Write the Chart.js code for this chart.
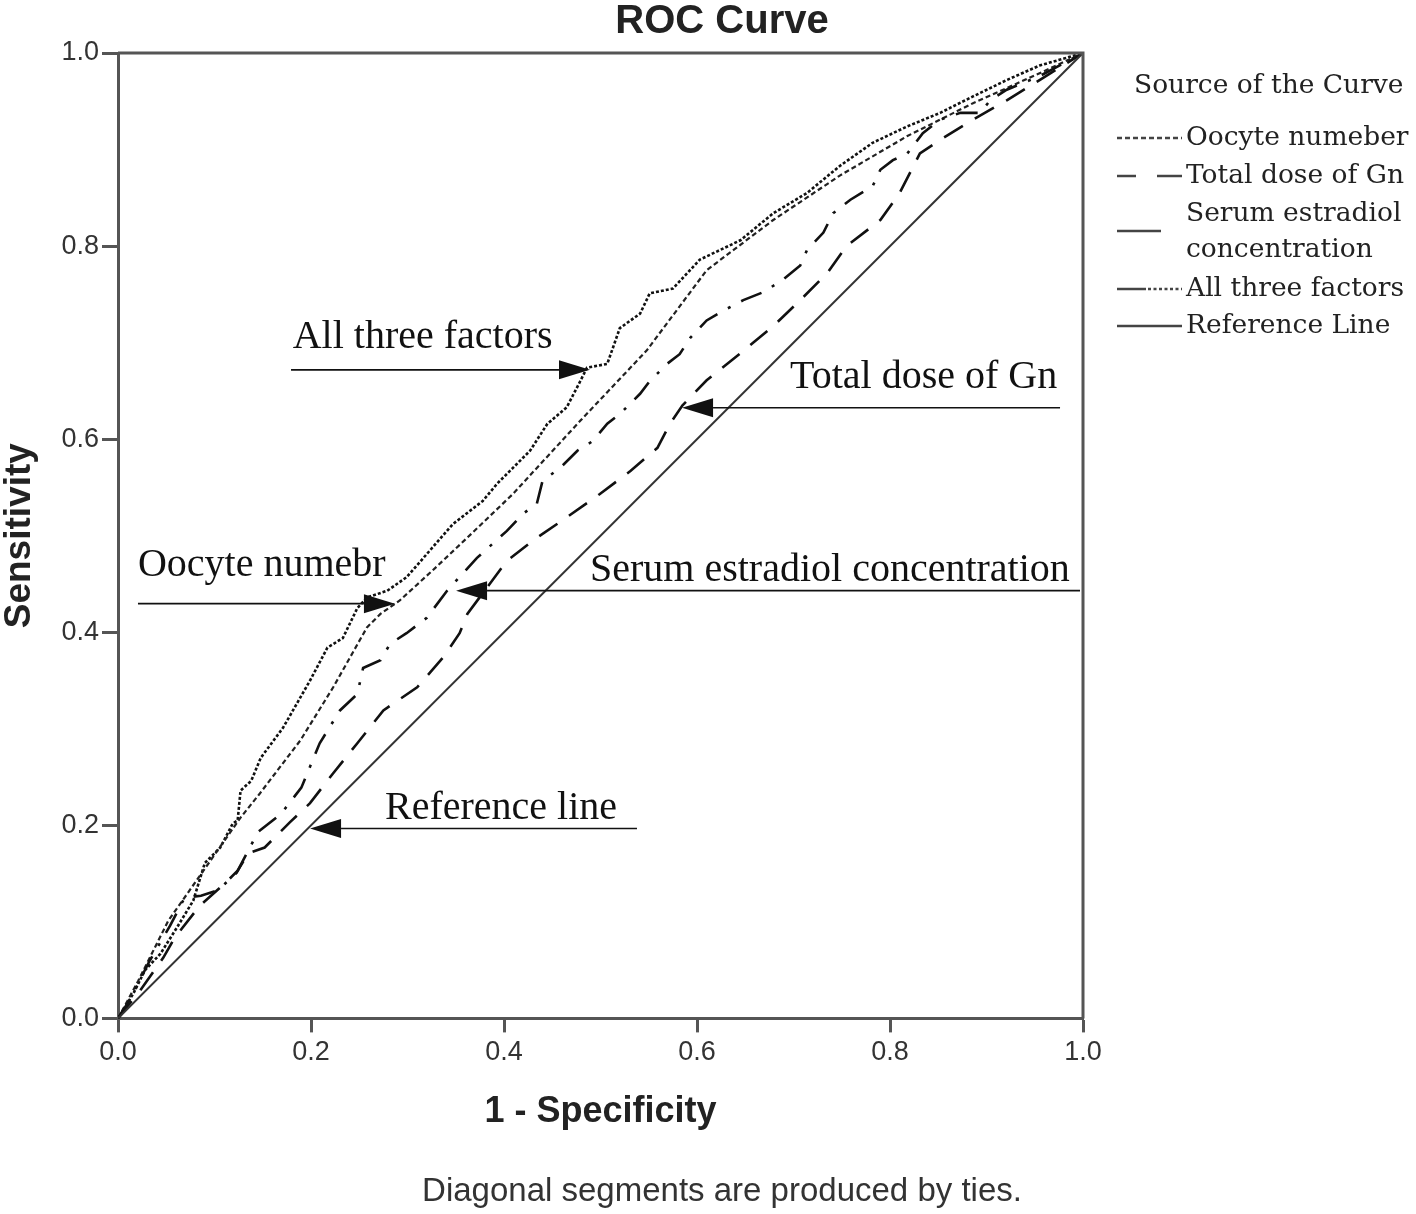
<!DOCTYPE html>
<html>
<head>
<meta charset="utf-8">
<script src="https://cdn.jsdelivr.net/npm/chart.js@4.4.1/dist/chart.umd.min.js"></script>
<style>
html,body{margin:0;padding:0;background:#fff;}
#wrap{width:1416px;height:1214px;}
</style>
</head>
<body>
<div id="wrap"><canvas id="c" width="1416" height="1214"></canvas></div>
<script>
// ---------- data ----------
const tickValues = [0.0, 0.2, 0.4, 0.6, 0.8, 1.0];

const allThreeX = [0,0.007,0.016,0.028,0.044,0.061,0.078,0.090,0.106,0.119,0.124,0.127,0.138,0.148,0.171,0.199,0.217,0.233,0.248,0.258,0.279,0.299,0.320,0.347,0.378,0.393,0.409,0.427,0.445,0.465,0.479,0.486,0.507,0.513,0.520,0.541,0.551,0.575,0.603,0.645,0.679,0.714,0.748,0.782,0.818,0.852,0.886,0.921,0.955,1];
const allThreeY = [0,0.011,0.026,0.050,0.067,0.094,0.122,0.161,0.177,0.202,0.205,0.236,0.246,0.270,0.301,0.350,0.384,0.394,0.425,0.436,0.443,0.457,0.481,0.512,0.536,0.554,0.570,0.588,0.616,0.633,0.660,0.674,0.678,0.695,0.715,0.730,0.751,0.756,0.786,0.806,0.834,0.855,0.883,0.907,0.924,0.938,0.955,0.972,0.987,1];

const oocyteX = [0,0.021,0.052,0.085,0.127,0.147,0.189,0.223,0.258,0.272,0.292,0.326,0.362,0.409,0.479,0.548,0.610,0.679,0.748,0.818,0.886,0.955,1];
const oocyteY = [0,0.039,0.101,0.148,0.208,0.233,0.288,0.343,0.405,0.419,0.433,0.464,0.498,0.543,0.619,0.692,0.775,0.827,0.873,0.914,0.948,0.979,1];

const serumX = [0,0.012,0.033,0.054,0.069,0.086,0.104,0.123,0.145,0.169,0.190,0.209,0.230,0.248,0.254,0.272,0.282,0.299,0.320,0.341,0.372,0.403,0.420,0.434,0.440,0.458,0.476,0.492,0.507,0.520,0.541,0.551,0.569,0.582,0.593,0.610,0.627,0.648,0.668,0.689,0.707,0.714,0.731,0.741,0.759,0.782,0.790,0.803,0.818,0.834,0.852,0.873,0.893,0.904,0.921,0.955,1];
const serumY = [0,0.019,0.060,0.096,0.125,0.127,0.133,0.151,0.193,0.212,0.239,0.285,0.319,0.336,0.363,0.371,0.388,0.399,0.415,0.443,0.477,0.505,0.523,0.533,0.557,0.570,0.588,0.598,0.616,0.626,0.647,0.660,0.678,0.688,0.705,0.723,0.733,0.744,0.752,0.765,0.780,0.796,0.814,0.834,0.848,0.862,0.879,0.889,0.896,0.917,0.931,0.938,0.938,0.951,0.962,0.976,1];

const gnX = [0,0.023,0.047,0.059,0.085,0.111,0.124,0.135,0.152,0.178,0.199,0.223,0.248,0.275,0.310,0.337,0.354,0.362,0.403,0.430,0.465,0.499,0.531,0.559,0.572,0.585,0.610,0.645,0.679,0.707,0.735,0.755,0.790,0.810,0.831,0.852,0.886,0.921,0.955,1];
const gnY = [0,0.029,0.063,0.084,0.117,0.140,0.153,0.171,0.177,0.203,0.223,0.254,0.285,0.319,0.343,0.374,0.399,0.419,0.474,0.495,0.519,0.543,0.567,0.591,0.616,0.635,0.661,0.689,0.717,0.744,0.772,0.800,0.827,0.855,0.896,0.910,0.931,0.951,0.972,1];

const refX = [0, 1];
const refY = [0, 1];

function pts(xs, ys){ return xs.map((x,i)=>({x:x, y:ys[i]})); }

// ---------- annotations (data coordinates) ----------
const annotations = [
  {text:'All three factors', tx:0.181, ty:0.6946, ly:0.6718, from:0.1793, tip:0.4891},
  {text:'Total dose of Gn', tx:0.6964, ty:0.6532, ly:0.6325, from:0.9762, tip:0.5845},
  {text:'Oocyte numebr', tx:0.0207, ty:0.4586, ly:0.4296, from:0.0207, tip:0.2870},
  {text:'Serum estradiol concentration', tx:0.4891, ty:0.4534, ly:0.4431, from:0.9969, tip:0.3503},
  {text:'Reference line', tx:0.2767, ty:0.2070, ly:0.1967, from:0.5378, tip:0.1990}
];

const annotationPlugin = {
  id: 'arrows',
  afterDatasetsDraw(chart){
    const ctx = chart.ctx, xs = chart.scales.x, ys = chart.scales.y;
    ctx.save();
    ctx.fillStyle = '#111';
    ctx.strokeStyle = '#111';
    ctx.lineWidth = 1.6;
    ctx.font = '40px "Liberation Serif", "Times New Roman", serif';
    ctx.textBaseline = 'alphabetic';
    ctx.textAlign = 'left';
    annotations.forEach(a => {
      ctx.fillText(a.text, xs.getPixelForValue(a.tx), ys.getPixelForValue(a.ty));
      const y = ys.getPixelForValue(a.ly);
      const x0 = xs.getPixelForValue(a.from);
      const xt = xs.getPixelForValue(a.tip);
      const dir = xt > x0 ? 1 : -1;
      const headLen = 31, headHalf = 9.5;
      const xb = xt - dir*headLen;
      ctx.beginPath();
      ctx.moveTo(x0, y); ctx.lineTo(xb, y); ctx.stroke();
      ctx.beginPath();
      ctx.moveTo(xt, y); ctx.lineTo(xb, y - headHalf); ctx.lineTo(xb, y + headHalf); ctx.closePath();
      ctx.fill();
    });
    ctx.restore();
  }
};

// ---------- legend (right side) ----------
const legendTitle = 'Source of the Curve';
const legendLabels = [['Oocyte numeber'], ['Total dose of Gn'], ['Serum estradiol','concentration'], ['All three factors'], ['Reference Line']];

const legendPlugin = {
  id: 'srcLegend',
  afterDraw(chart){
    const ctx = chart.ctx;
    ctx.save();
    ctx.fillStyle = '#222';
    ctx.font = '26.5px "DejaVu Serif", serif';
    ctx.textBaseline = 'middle';
    ctx.textAlign = 'left';
    ctx.fillText(legendTitle, 1134, 86);
    const textX = 1186;
    const rows = [[138],[176],[214,250],[289],[326]];
    legendLabels.forEach((lines,i)=>{
      lines.forEach((t,j)=> ctx.fillText(t, textX, rows[i][j]));
    });
    ctx.strokeStyle = '#444';
    ctx.lineWidth = 2.5;
    const seg = (x1,x2,y,dash)=>{ ctx.setLineDash(dash||[]); ctx.beginPath(); ctx.moveTo(x1,y); ctx.lineTo(x2,y); ctx.stroke(); };
    seg(1117,1182,138,[5,3]);
    seg(1117,1136,176); seg(1157,1182,176);
    seg(1117,1161,231);
    seg(1117,1146,289); seg(1148,1182,289,[3,2.5]);
    seg(1117,1182,326);
    ctx.restore();
  }
};

const framePlugin = {
  id: 'frame',
  afterDraw(chart){
    const {left,right,top,bottom} = chart.chartArea;
    const ctx = chart.ctx;
    ctx.save();
    ctx.strokeStyle = '#555';
    ctx.lineWidth = 3;
    ctx.beginPath();
    ctx.moveTo(left, top); ctx.lineTo(right, top); ctx.lineTo(right, bottom);
    ctx.stroke();
    ctx.restore();
  }
};

const FONT_SANS = '"Liberation Sans", Arial, sans-serif';

new Chart(document.getElementById('c'), {
  type: 'line',
  data: {
    datasets: [
      {label:'Reference Line', data: pts(refX, refY), borderColor:'#333', borderWidth:2},
      {label:'Total dose of Gn', data: pts(gnX, gnY), borderColor:'#111', borderWidth:2.6, borderDash:[22,14]},
      {label:'Serum estradiol concentration', data: pts(serumX, serumY), borderColor:'#111', borderWidth:2.6, borderDash:[22,12,3,12]},
      {label:'Oocyte numeber', data: pts(oocyteX, oocyteY), borderColor:'#222', borderWidth:2.2, borderDash:[5,3]},
      {label:'All three factors', data: pts(allThreeX, allThreeY), borderColor:'#111', borderWidth:2.6, borderDash:[3,2]}
    ]
  },
  options: {
    responsive: false,
    animation: false,
    devicePixelRatio: 1,
    layout: { padding: {left:28, right:0, top:0, bottom:0} },
    elements: { point: {radius:0, hoverRadius:0}, line: {tension:0, fill:false} },
    plugins: {
      legend: {display:false},
      tooltip: {enabled:false},
      title: {display:true, text:'ROC Curve', color:'#222', font:{family:FONT_SANS, size:40, weight:'bold', lineHeight:1.1}, padding:{top:0, bottom:9}},
      subtitle: {display:true, position:'bottom', text:'Diagonal segments are produced by ties.', color:'#333', font:{family:FONT_SANS, size:33, lineHeight:1.2}, padding:{top:0, bottom:2}}
    },
    scales: {
      x: {
        type:'linear', min:0, max:1,
        afterBuildTicks(scale){ scale.ticks = tickValues.map(v=>({value:v})); },
        afterFit(scale){ scale.height = 154; },
        ticks: {callback:(v)=>Number(v).toFixed(1), color:'#333', font:{family:FONT_SANS, size:27}, padding:4, maxRotation:0},
        grid: {drawOnChartArea:false, drawTicks:true, tickLength:14, tickColor:'#555', tickWidth:3},
        border: {display:true, color:'#555', width:3},
        title: {display:true, text:'1 - Specificity', color:'#222', font:{family:FONT_SANS, size:36, weight:'bold', lineHeight:1.2}, padding:{top:0, bottom:39}}
      },
      y: {
        type:'linear', min:0, max:1,
        afterBuildTicks(scale){ scale.ticks = tickValues.map(v=>({value:v})); },
        afterFit(scale){ scale.width = 90; },
        ticks: {callback:(v)=>Number(v).toFixed(1), color:'#333', font:{family:FONT_SANS, size:27}, padding:3},
        grid: {drawOnChartArea:false, drawTicks:true, tickLength:16, tickColor:'#555', tickWidth:3},
        border: {display:true, color:'#555', width:3},
        title: {display:true, text:'Sensitivity', color:'#222', font:{family:FONT_SANS, size:37, weight:'bold', lineHeight:1.2}, padding:{top:-30.2, bottom:0}}
      },
      yRight: {
        type:'linear', position:'right', min:0, max:1, display:true,
        afterFit(scale){ scale.width = 333; },
        ticks: {display:false},
        grid: {display:false, drawTicks:false},
        border: {display:false}
      }
    }
  },
  plugins: [framePlugin, annotationPlugin, legendPlugin]
});
</script>
</body>
</html>
